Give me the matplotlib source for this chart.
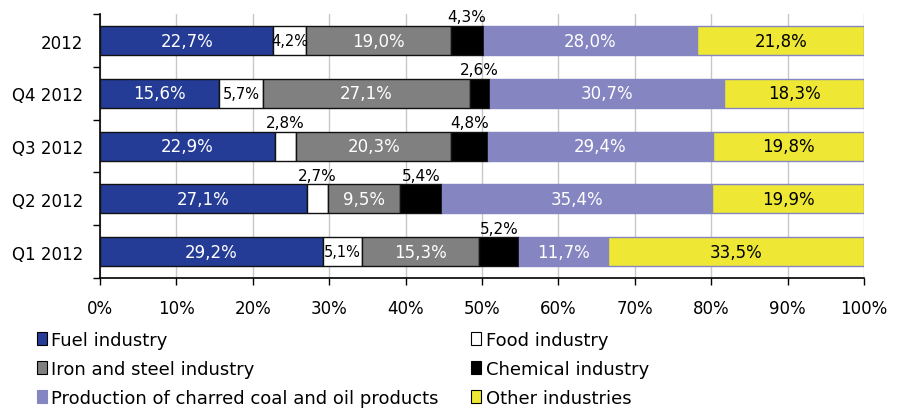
import matplotlib.pyplot as plt
import numpy as np
from matplotlib.patches import Patch

plt.rcParams['font.family'] = ['DejaVu Sans']

periods = ['2012', 'Q4 2012', 'Q3 2012', 'Q2 2012', 'Q1 2012']
industries = ['Fuel industry', 'Food industry', 'Iron and steel industry',
              'Chemical industry', 'Production of charred coal and oil products',
              'Other industries']

fuel = [22.7, 15.6, 22.9, 27.1, 29.2]
food = [4.2, 5.7, 2.8, 2.7, 5.1]
iron_steel = [19.0, 27.1, 20.3, 9.5, 15.3]
chemical = [4.3, 2.6, 4.8, 5.4, 5.2]
charred_coal = [28.0, 30.7, 29.4, 35.4, 11.7]
other = [21.8, 18.3, 19.8, 19.9, 33.5]

series = [fuel, food, iron_steel, chemical, charred_coal, other]
colors = ['#253C97', '#FFFFFF', '#808080', '#000000', '#8585C2', '#EEE834']
edges = ['#111111', '#111111', '#111111', '#111111', '#8585C2', '#8585C2']
text_colors = ['white', 'black', 'white', 'black', 'white', 'black']

fig = plt.figure(figsize=(8.98, 4.10), dpi=100)
ax = fig.add_axes([0.1114, 0.3195, 0.8508, 0.6435])

y = np.arange(len(periods))
bar_h = 0.55
left = np.zeros(len(periods))
for vals, c, ec, tc in zip(series, colors, edges, text_colors):
    vals = np.array(vals)
    ax.barh(y, vals, left=left, height=bar_h, color=c, edgecolor=ec,
            linewidth=1.0, zorder=3)
    for i, v in enumerate(vals):
        label = f'{v:.1f}%'.replace('.', ',')
        cx = left[i] + v / 2
        if v < 4.0 or (c == '#000000'):
            # small segments get their label above the bar
            ax.text(cx, y[i] - bar_h / 2 - 0.03, label, ha='center', va='bottom',
                    fontsize=11, color='black', zorder=4)
        elif v < 6:
            ax.text(cx, y[i], label, ha='center', va='center',
                    fontsize=10.5, color=tc, zorder=4)
        else:
            ax.text(cx, y[i], label, ha='center', va='center',
                    fontsize=12, color=tc, zorder=4)
    left += vals

ax.set_xlim(0, 100)
ax.set_ylim(len(periods) - 0.5, -0.5)
ax.set_xticks(np.arange(0, 101, 10))
ax.set_xticklabels([f'{t}%' for t in range(0, 101, 10)], fontsize=12)
ax.set_yticks(y)
ax.set_yticklabels(periods, fontsize=12)
ax.set_yticks(np.arange(-0.5, len(periods)), minor=True)
ax.tick_params(axis='y', which='major', length=0, pad=12)
ax.tick_params(axis='y', which='minor', length=5, direction='out', width=1)
ax.tick_params(axis='x', length=5, direction='out', width=1, pad=10)
ax.grid(axis='x', color='#C8C8C8', linewidth=1, zorder=0)
for s in ['top', 'right']:
    ax.spines[s].set_visible(False)
ax.spines['left'].set_linewidth(1.2)
ax.spines['bottom'].set_linewidth(1.2)

handles = [Patch(facecolor=c, edgecolor='black' if c != '#8585C2' else c, linewidth=0.8)
           for c in colors]
order = [0, 2, 4, 1, 3, 5]
fig.legend([handles[k] for k in order], [industries[k] for k in order],
           ncol=2, loc='upper left', bbox_to_anchor=(0.041, 0.190),
           frameon=False, fontsize=13, handlelength=0.55, handleheight=0.75,
           handletextpad=0.25, columnspacing=1.8, labelspacing=0.6,
           borderaxespad=0, borderpad=0)

fig.savefig('out.png', dpi=100)
